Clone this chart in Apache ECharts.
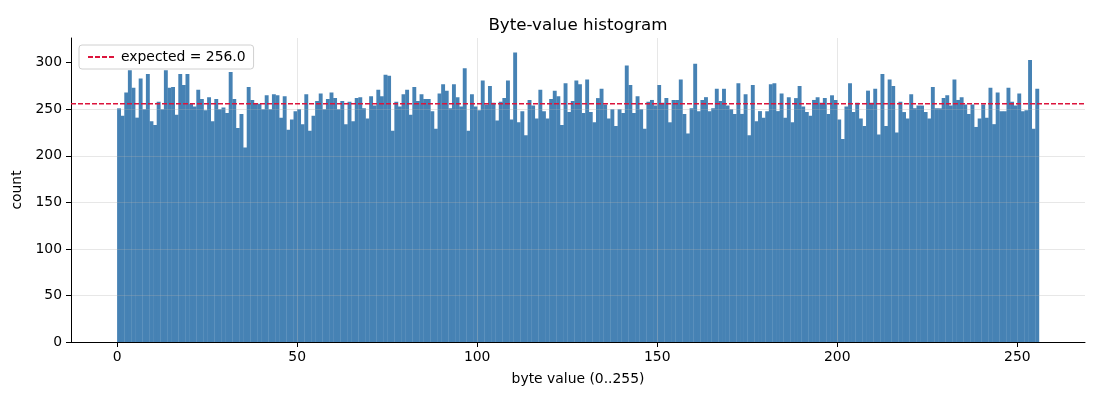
<!DOCTYPE html>
<html>
<head>
<meta charset="utf-8">
<script src="https://cdn.jsdelivr.net/npm/echarts@6/dist/echarts.min.js"></script>
<style>html,body{margin:0;padding:0;background:#fff}#c{width:1100px;height:400px}</style>
</head>
<body>
<div id="c"></div>
<script>
// byte values 0..255 and their counts
const byteValues = Array.from({length: 256}, (_, i) => i);
const counts = [
251,243,268,292,273,241,283,250,288,237,233,258,250,292,273,274,
244,288,276,288,256,253,271,261,249,263,237,261,250,252,246,290,
261,230,245,209,274,260,256,256,250,265,250,266,265,241,264,228,
239,248,250,234,266,227,243,259,267,250,261,268,262,250,259,234,
258,237,262,263,251,240,264,254,271,264,287,286,227,258,253,266,
271,244,274,259,266,261,261,248,229,267,277,270,251,277,263,253,
294,227,266,253,249,281,255,275,257,238,258,262,281,239,311,236,
248,222,260,254,240,271,248,240,261,270,264,233,278,247,259,281,
277,246,282,247,236,262,272,255,240,250,232,250,246,297,276,246,
264,250,229,258,260,254,276,257,262,236,260,260,282,245,224,251,
299,248,260,263,248,251,272,259,272,254,250,245,278,245,266,222,
276,237,248,241,248,277,278,248,267,241,263,236,262,275,253,247,
243,260,263,257,262,245,265,260,239,218,253,278,247,257,240,232,
270,257,272,223,288,232,282,275,225,258,247,240,266,251,254,254,
247,240,274,251,251,262,265,254,282,260,263,255,245,255,231,240,
255,241,273,234,268,248,248,273,258,254,267,248,249,303,229,272
];
const expected = 256.0;
const xTicks = [0, 50, 100, 150, 200, 250];
const yTicks = [0, 50, 100, 150, 200, 250, 300];

const font = 'DejaVu Sans';
const xMin = -0.05 * 256, xMax = 256 * 1.05;
const yMax = Math.max(...counts) * 1.05;
const legendName = 'expected = ' + expected.toFixed(1);

const chart = echarts.init(document.getElementById('c'), null, {renderer: 'canvas'});
chart.setOption({
  animation: false,
  backgroundColor: '#fff',
  title: {
    text: 'Byte-value histogram', left: 573, top: 12, textAlign: 'center',
    textStyle: {fontFamily: font, fontSize: 16.7, fontWeight: 'normal', color: '#000'}
  },
  legend: {
    left: 79, top: 45, orient: 'vertical',
    padding: [5, 8, 5, 8], borderColor: '#d0d0d0', borderWidth: 1, borderRadius: 3,
    backgroundColor: 'rgba(255,255,255,0.8)',
    itemWidth: 28, itemHeight: 10,
    itemStyle: {opacity: 0},
    textStyle: {fontFamily: font, fontSize: 13.9, color: '#000'},
    data: [legendName]
  },
  grid: {left: 71, right: 15, top: 38, bottom: 58, containLabel: false},
  xAxis: {
    type: 'value', min: xMin, max: xMax, z: 3,
    name: 'byte value (0..255)', nameLocation: 'middle', nameGap: 30,
    nameTextStyle: {fontFamily: font, fontSize: 13.9, color: '#000'},
    axisLine: {show: true, onZero: false, lineStyle: {color: '#000', width: 1}},
    axisTick: {show: true, inside: false, length: 5, lineStyle: {color: '#000', width: 1}, customValues: xTicks},
    axisLabel: {fontFamily: font, fontSize: 13.9, color: '#000', margin: 8, customValues: xTicks},
    splitLine: {show: true, showMinLine: false, showMaxLine: false, lineStyle: {color: 'rgba(176,176,176,0.3)', width: 1}}
  },
  yAxis: {
    type: 'value', min: 0, max: yMax, z: 3,
    name: 'count', nameLocation: 'middle', nameGap: 43,
    nameTextStyle: {fontFamily: font, fontSize: 13.9, color: '#000'},
    axisLine: {show: true, onZero: false, lineStyle: {color: '#000', width: 1}},
    axisTick: {show: true, inside: false, length: 5, lineStyle: {color: '#000', width: 1}, customValues: yTicks},
    axisLabel: {fontFamily: font, fontSize: 13.9, color: '#000', margin: 9, customValues: yTicks},
    splitLine: {show: true, showMinLine: false, showMaxLine: false, lineStyle: {color: 'rgba(176,176,176,0.3)', width: 1}}
  },
  series: [
    {
      type: 'custom', name: 'counts', z: 2,
      data: byteValues.map((b, i) => [b, b + 1, counts[i]]),
      encode: {x: [0, 1], y: 2},
      renderItem: function (params, api) {
        const p0 = api.coord([api.value(0), api.value(2)]);
        const p1 = api.coord([api.value(1), 0]);
        return {
          type: 'rect',
          shape: {x: p0[0], y: p0[1], width: p1[0] - p0[0] + 0.3, height: p1[1] - p0[1]},
          style: {fill: '#4682B4'}
        };
      }
    },
    {
      type: 'line', name: legendName, z: 10, zlevel: 1,
      data: [[xMin, expected], [xMax, expected]],
      symbol: 'none', silent: true,
      lineStyle: {color: '#DC143C', width: 1.4, type: [5, 2]},
      itemStyle: {color: '#DC143C'}
    }
  ]
});
</script>
</body>
</html>
